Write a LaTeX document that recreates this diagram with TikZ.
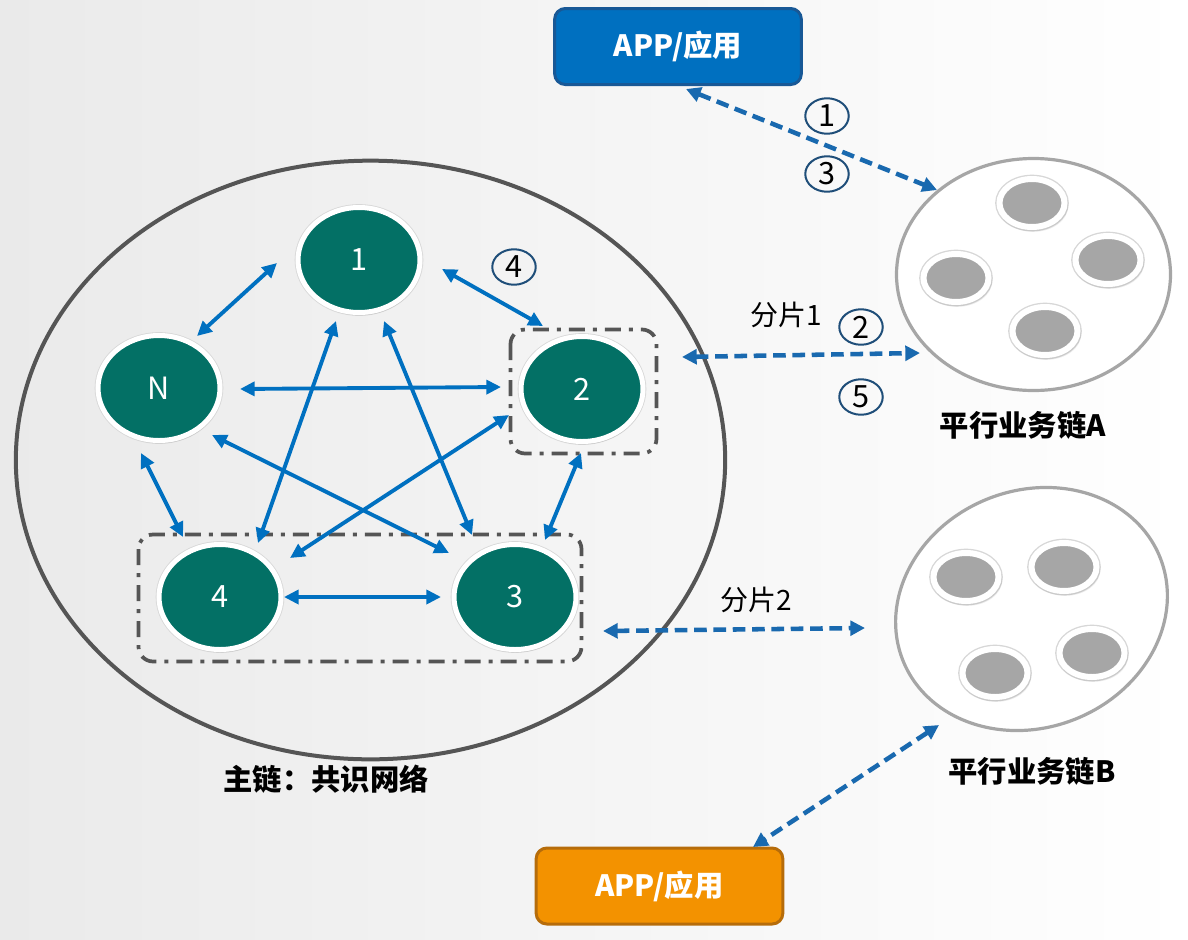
\documentclass[tikz,border=0pt]{standalone}
\usepackage{fontspec}
\setmainfont{Noto Sans CJK SC}
\usetikzlibrary{arrows.meta,shapes.geometric,shadows}
\definecolor{teal0}{RGB}{3,112,101}
\definecolor{arrblue}{RGB}{0,112,192}
\definecolor{dashblue}{RGB}{25,105,175}
\definecolor{dkgray}{RGB}{85,85,85}
\definecolor{ltgray}{RGB}{166,166,166}
\definecolor{appblue}{RGB}{0,112,192}
\definecolor{appblueb}{RGB}{24,88,150}
\definecolor{apporange}{RGB}{243,146,0}
\definecolor{apporangeb}{RGB}{182,108,10}
\definecolor{circblue}{RGB}{31,78,121}
\definecolor{bgl}{RGB}{234,234,234}
\definecolor{halo}{RGB}{215,215,215}
\begin{document}
\begin{tikzpicture}[x=0.75pt,y=-0.75pt,
  gnode/.style={ellipse, fill=teal0, draw=white, line width=3.75pt, minimum width=91.5pt, minimum height=78.75pt, inner sep=0pt, text=white, font=\fontsize{23}{26}\selectfont, preaction={draw=halo, line width=5pt}, drop shadow={opacity=0.18, shadow xshift=0.8pt, shadow yshift=-2.2pt}},
  snode/.style={ellipse, fill=ltgray, draw=white, line width=4.5pt, minimum width=48.75pt, minimum height=36pt, inner sep=0pt, preaction={draw=halo, line width=6.5pt}, drop shadow={opacity=0.15, shadow xshift=0.8pt, shadow yshift=-2pt, shadow scale=1.08}},
  chain/.style={ellipse, draw=ltgray, fill=white, line width=2.4pt, inner sep=0pt},
  circ/.style={ellipse, draw=circblue, line width=1.5pt, minimum width=32.6pt, minimum height=26.6pt, inner sep=0pt, font=\fontsize{23}{26}\selectfont},
  arr/.style={arrblue, line width=2.9pt, {Triangle[length=11pt,width=10.5pt]}-{Triangle[length=11pt,width=10.5pt]}},
  darr/.style={dashblue, line width=3.4pt, dash pattern=on 9.5pt off 5pt, {Triangle[length=11pt,width=11pt]}-{Triangle[length=11pt,width=11pt]}},
  dashbox/.style={draw=dkgray, line width=2.8pt, dash pattern=on 12pt off 6pt on 3pt off 6pt, rounded corners=11pt},
  lbl/.style={font=\fontsize{22}{26}\selectfont\bfseries},
  txt/.style={font=\fontsize{21}{24}\selectfont},
  appbox/.style={rectangle, rounded corners=8pt, line width=2.25pt, minimum width=185pt, minimum height=57pt, text=white, font=\fontsize{22}{26}\selectfont\bfseries}
]
\useasboundingbox (0,0) rectangle (1188,939);
\shade[left color=bgl, right color=white] (0,0) rectangle (1188,939);

% main chain
\node[ellipse, draw=dkgray, line width=3pt, minimum width=532pt, minimum height=449pt] (main) at (370.5,460) {};
\draw[dashbox] (510.5,329.5) rectangle (656.5,453.5);
\draw[dashbox] (138.5,534.5) rectangle (581.5,661.5);

\node[gnode] (n1) at (359,260) {1};
\node[gnode] (nN) at (159,388) {N};
\node[gnode] (n2) at (582,389) {2};
\node[gnode] (n4) at (220,597) {4};
\node[gnode] (n3) at (515,597) {3};

% parallel chains
\node[chain, minimum width=205.5pt, minimum height=174pt] (cA) at (1033.5,274.5) {};
\node[snode] (a1) at (1032,203) {};
\node[snode] (a2) at (1108,260) {};
\node[snode] (a3) at (956,278) {};
\node[snode] (a4) at (1045,331) {};

\node[chain, rotate=22, minimum width=207.75pt, minimum height=177.75pt] (cB) at (1031.5,609) {};
\node[snode] (b1) at (966,577) {};
\node[snode] (b2) at (1064,567) {};
\node[snode] (b3) at (1092,653) {};
\node[snode] (b4) at (995,673) {};

% app boxes
\node[appbox, fill=appblue, draw=appblueb] (appT) at (678,46.5) {APP/应用};
\node[appbox, fill=apporange, draw=apporangeb] (appB) at (659.5,886) {APP/应用};

% labels
\node[lbl] (tA) at (1023,425) {平行业务链A};
\node[lbl] (tB) at (1032,771) {平行业务链B};
\node[lbl] (tM) at (326,779) {主链：共识网络};
\node[txt] (f1) at (786,315) {分片1};
\node[txt] (f2) at (756,600) {分片2};
\node[circ] (c1) at (827,116) {1};
\node[circ] (c3) at (827,174) {3};
\node[circ] (c2) at (861,327) {2};
\node[circ] (c5) at (861,397) {5};
\node[circ] (c4) at (514,267) {4};

% main-chain connectors
\draw[arr] ([shift={(38,-52)}]nN.center) -- ([shift={(-82,3)}]n1.center);
\draw[arr] ([shift={(83,9)}]n1.center) -- ([shift={(-39,-63)}]n2.center);
\draw[arr] ([shift={(81,1)}]nN.center) -- ([shift={(-81,-2)}]n2.center);
\draw[arr] ([shift={(-23,61)}]n1.center) -- ([shift={(38,-54)}]n4.center);
\draw[arr] ([shift={(25,61)}]n1.center) -- ([shift={(-43,-62)}]n3.center);
\draw[arr] ([shift={(-18,65)}]nN.center) -- ([shift={(-37,-60)}]n4.center);
\draw[arr] ([shift={(53,47)}]nN.center) -- ([shift={(-66,-44)}]n3.center);
\draw[arr] ([shift={(-73,26)}]n2.center) -- ([shift={(70,-39)}]n4.center);
\draw[arr] ([shift={(-1,64)}]n2.center) -- ([shift={(30,-57)}]n3.center);
\draw[arr] ([shift={(64,0)}]n4.center) -- ([shift={(-74,0)}]n3.center);

% dashed connectors
\draw[darr] ([shift={(8,42.5)}]appT.center) -- ([shift={(-96.5,-84.5)}]cA.center);
\draw[darr] ([shift={(100,-32)}]n2.center) -- ([shift={(-113.5,78.5)}]cA.center);
\draw[darr] ([shift={(88,34)}]n3.center) -- ([shift={(-166.5,19)}]cB.center);
\draw[darr] ([shift={(-92.5,116)}]cB.center) -- ([shift={(93.5,-39)}]appB.center);
\end{tikzpicture}
\end{document}
